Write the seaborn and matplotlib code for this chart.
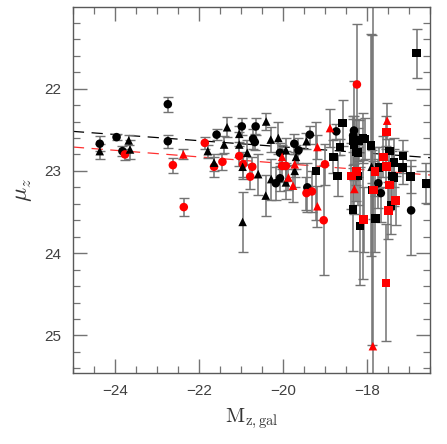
import numpy as np
import pandas as pd
import seaborn as sns
import matplotlib.pyplot as plt
from matplotlib.ticker import MultipleLocator

# black circles
bc_x = [-24.36, -23.96, -23.82, -22.74, -22.74, -21.58, -20.98, -20.65, -20.71, -20.67,
        -20.07, -20.17, -20.07, -19.73, -19.63, -19.36, -19.42, -18.73, -18.31, -18.33,
        -17.73, -17.67, -16.95]
bc_y = [22.67, 22.59, 22.76, 22.19, 22.64, 22.56, 22.46, 22.46, 22.61, 22.65,
        23.09, 23.15, 22.78, 22.67, 22.75, 22.56, 23.20, 22.52, 22.51, 22.57,
        23.15, 23.27, 23.48]
bc_e = [0.09, 0.04, 0.06, 0.09, 0.08, 0.07, 0.10, 0.10, 0.12, 0.10,
        0.15, 0.20, 0.12, 0.12, 0.15, 0.11, 0.30, 0.09, 0.60, 0.20,
        0.30, 0.35, 0.54]

# red circles
rc_x = [-23.76, -22.62, -22.36, -21.86, -21.64, -21.44, -21.04, -20.95, -20.73, -20.78,
        -20.02, -19.93, -19.00, -19.44, -19.31, -19.03, -18.24]
rc_y = [22.80, 22.93, 23.44, 22.66, 22.95, 22.89, 22.82, 22.92, 22.95, 23.07,
        22.94, 22.94, 22.92, 23.27, 23.25, 23.60, 21.95]
rc_e = [0.07, 0.09, 0.11, 0.07, 0.12, 0.10, 0.12, 0.15, 0.12, 0.15,
        0.20, 0.18, 0.25, 0.20, 0.25, 0.67, 0.74]

# black triangles
bt_x = [-24.36, -23.67, -23.64, -21.79, -21.64, -21.40, -21.33, -21.04, -21.04, -20.40,
        -20.85, -20.96, -20.59, -20.29, -20.11, -20.41, -20.96, -20.28, -19.93, -19.93,
        -19.69, -19.72, -19.44, -17.89]
bt_y = [22.76, 22.63, 22.74, 22.76, 22.90, 22.68, 22.47, 22.55, 22.68, 22.40,
        22.78, 22.95, 23.04, 22.62, 22.60, 23.30, 23.62, 23.10, 23.14, 22.75,
        22.83, 23.00, 22.64, 22.95]
bt_e = [0.09, 0.06, 0.12, 0.08, 0.10, 0.10, 0.12, 0.10, 0.15, 0.10,
        0.15, 0.15, 0.25, 0.15, 0.20, 0.25, 0.36, 0.25, 0.20, 0.15,
        0.15, 0.20, 0.10, 0.20]

# red triangles
rt_x = [-22.37, -20.02, -19.87, -19.76, -19.72, -19.18, -18.88, -19.18, -18.30, -17.52, -17.86]
rt_y = [22.80, 22.83, 23.08, 23.18, 22.92, 22.71, 22.48, 23.43, 23.22, 22.39, 25.13]
rt_e = [0.06, 0.15, 0.15, 0.20, 0.15, 0.15, 0.23, 0.25, 0.30, 0.22, 4.5]

# black squares
bs_x = [-18.58, -18.64, -18.80, -19.21, -18.70, -18.33, -18.19, -18.31, -18.25, -18.21,
        -18.22, -18.33, -18.17, -18.09, -18.05, -17.90, -17.47, -17.14, -17.36, -17.71,
        -17.15, -16.96, -16.60, -17.40, -17.36, -17.43, -17.80, -16.82, -17.88]
bs_y = [22.42, 22.71, 22.83, 23.00, 23.06, 22.63, 22.63, 22.68, 22.77, 22.78,
        23.06, 23.47, 23.67, 22.60, 22.61, 22.69, 22.76, 22.82, 22.90, 22.96,
        22.96, 23.07, 23.15, 23.06, 23.08, 23.42, 23.58, 21.57, 23.23]
bs_e = [0.28, 0.10, 0.20, 0.60, 0.25, 0.30, 0.25, 0.35, 0.40, 0.30,
        0.35, 0.50, 0.72, 0.30, 0.25, 1.35, 0.15, 0.20, 0.30, 0.25,
        0.20, 0.20, 0.24, 0.30, 0.35, 0.35, 0.40, 0.30, 1.88]

# red squares
rs_x = [-18.37, -18.25, -18.10, -17.54, -17.61, -17.81, -17.54, -17.47, -17.85, -17.32,
        -17.49, -18.07, -17.55]
rs_y = [23.06, 23.01, 23.59, 22.53, 22.83, 23.01, 22.95, 23.17, 23.23, 23.36,
        23.48, 23.59, 24.36]
rs_e = [0.40, 0.35, 0.72, 0.20, 0.25, 0.30, 0.25, 0.30, 0.35, 0.30,
        0.35, 0.40, 0.71]

# linear fits: mu = a + b * M
fit_black = (23.46, 0.0376)
fit_red = (23.71, 0.040)

groups = [
    (bc_x, bc_y, bc_e, 'black', 'circle'),
    (rc_x, rc_y, rc_e, 'red', 'circle'),
    (bt_x, bt_y, bt_e, 'black', 'triangle'),
    (rt_x, rt_y, rt_e, 'red', 'triangle'),
    (bs_x, bs_y, bs_e, 'black', 'square'),
    (rs_x, rs_y, rs_e, 'red', 'square'),
]
frames = []
for x, y, e, c, m in groups:
    frames.append(pd.DataFrame({'M': x, 'mu': y, 'err': e, 'col': c, 'shape': m}))
df = pd.concat(frames, ignore_index=True)

sns.set_style('ticks')
plt.rcParams['font.family'] = ['Liberation Sans', 'DejaVu Sans']
plt.rcParams['mathtext.fontset'] = 'cm'

fig = plt.figure(figsize=(4.47, 4.44), dpi=100)
ax = fig.add_axes([0.163, 0.161, 0.799, 0.823])

xx = np.array([-25.0, -16.5])
ax.plot(xx, fit_black[0] + fit_black[1] * xx, color='black', lw=0.9,
        dashes=(9, 6), zorder=1)
ax.plot(xx, fit_red[0] + fit_red[1] * xx, color='#ff3030', lw=0.9,
        dashes=(9, 6), zorder=1)

ax.errorbar(df['M'], df['mu'], yerr=df['err'], fmt='none', ecolor='0.45',
            elinewidth=1.1, capsize=3.5, capthick=1.0, zorder=2)

sns.scatterplot(data=df, x='M', y='mu', hue='col', style='shape',
                palette={'black': 'black', 'red': 'red'},
                markers={'circle': 'o', 'triangle': '^', 'square': 's'},
                s=38, linewidth=0, legend=False, ax=ax, zorder=3)

ax.set_xlim(-25, -16.5)
ax.set_ylim(25.45, 21.01)
ax.xaxis.set_major_locator(MultipleLocator(2))
ax.xaxis.set_minor_locator(MultipleLocator(0.5))
ax.yaxis.set_major_locator(MultipleLocator(1))
ax.yaxis.set_minor_locator(MultipleLocator(0.2))
ax.tick_params(which='both', direction='in', top=True, right=True, color='0.45',
               labelsize=11, labelcolor='0.25')
ax.tick_params(which='major', length=10, width=1, pad=8)
ax.tick_params(which='minor', length=5, width=0.9)
for sp in ax.spines.values():
    sp.set_color('0.35')
    sp.set_linewidth(1.0)

ax.set_xlabel(r'$\mathrm{M_{z,gal}}$', fontsize=15, color='0.2', labelpad=6)
ax.set_ylabel(r'$\mu_z$', fontsize=17, color='0.2', labelpad=8)

plt.savefig('out.png', dpi=100)
